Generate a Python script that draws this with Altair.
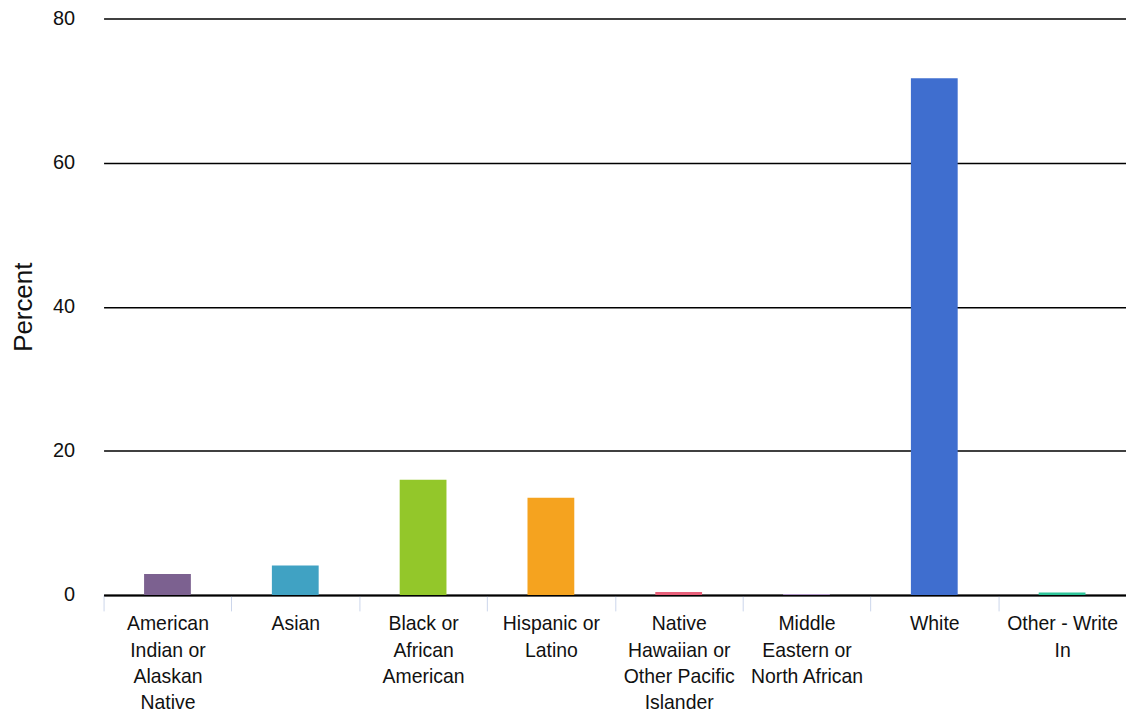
import json
import altair as alt
import pandas as pd

categories = [
    "American Indian or Alaskan Native",
    "Asian",
    "Black or African American",
    "Hispanic or Latino",
    "Native Hawaiian or Other Pacific Islander",
    "Middle Eastern or North African",
    "White",
    "Other - Write In",
]
values = [2.9, 4.1, 16.0, 13.5, 0.4, 0.1, 71.7, 0.35]
colors = ["#7c6190", "#40a2c3", "#93c72a", "#f5a31f", "#e8607a", "#c3a3e0", "#3f6ecf", "#2ec59a"]
label_lines = [
    ["American", "Indian or", "Alaskan", "Native"],
    ["Asian"],
    ["Black or", "African", "American"],
    ["Hispanic or", "Latino"],
    ["Native", "Hawaiian or", "Other Pacific", "Islander"],
    ["Middle", "Eastern or", "North African"],
    ["White"],
    ["Other - Write", "In"],
]
y_ticks = [0, 20, 40, 60, 80]

df = pd.DataFrame({"category": categories, "value": values})
label_map = json.dumps(dict(zip(categories, label_lines)))

FONT = "Liberation Sans"

chart = (
    alt.Chart(df)
    .mark_bar(size=47)
    .encode(
        x=alt.X(
            "category:N",
            sort=categories,
            scale=alt.Scale(paddingInner=0, paddingOuter=0),
            axis=alt.Axis(
                title=None,
                labelAngle=0,
                labelExpr=f"{label_map}[datum.label]",
                labelFont=FONT,
                labelFontSize=19.5,
                labelColor="#111111",
                labelLineHeight=26.5,
                labelBaseline="top",
                labelPadding=4,
                labelLimit=300,
                tickBand="extent",
                tickColor="#ccd6eb",
                tickSize=16,
                tickWidth=1,
                domainColor="#000000",
                domainWidth=2,
                grid=False,
            ),
        ),
        y=alt.Y(
            "value:Q",
            scale=alt.Scale(domain=[0, 80], nice=False),
            axis=alt.Axis(
                title="Percent",
                values=y_ticks,
                titleFont=FONT,
                titleFontSize=26,
                titleFontWeight="normal",
                titleColor="#111111",
                titlePadding=16,
                labelFont=FONT,
                labelFontSize=20,
                labelColor="#111111",
                labelPadding=29,
                ticks=False,
                domain=False,
                gridColor="#000000",
                gridWidth=1.5,
            ),
        ),
        color=alt.Color(
            "category:N",
            scale=alt.Scale(domain=categories, range=colors),
            legend=None,
        ),
    )
    .properties(
        width=1027,
        height=579,
        padding={"left": 96, "top": 9, "right": 0, "bottom": 117},
        autosize=alt.AutoSizeParams(type="none"),
    )
    .configure_view(stroke=None)
)

chart.save("out.html", embed_options={"renderer": "svg", "actions": False})
